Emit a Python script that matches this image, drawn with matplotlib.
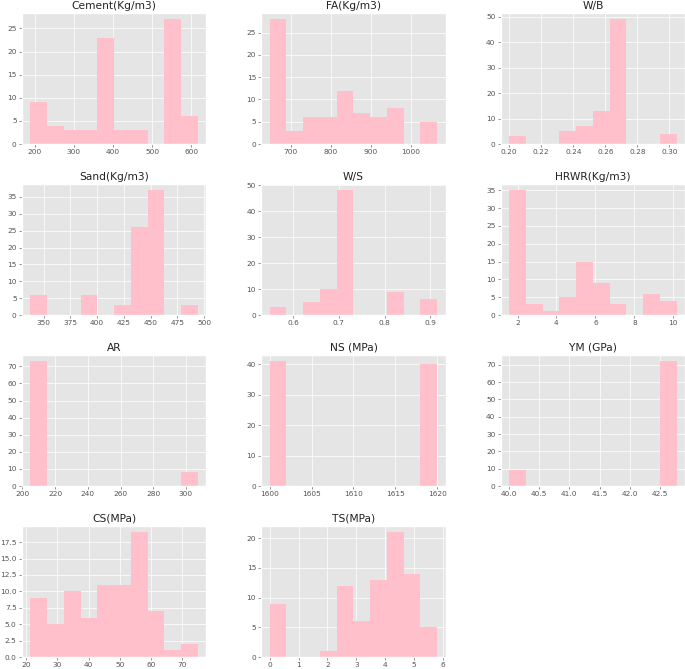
import numpy as np
import matplotlib
matplotlib.use("Agg")
import matplotlib.pyplot as plt

plt.style.use("ggplot")

# Histogram counts (10 bins each) and data ranges (min, max)
cement_counts = [9, 4, 3, 3, 23, 3, 3, 0, 27, 6]
cement_range = (189, 616)
fa_counts = [28, 3, 6, 6, 12, 7, 6, 8, 0, 5]
fa_range = (648, 1066)
wb_counts = [3, 0, 0, 5, 7, 13, 49, 0, 0, 4]
wb_range = (0.200, 0.3045)
sand_counts = [6, 0, 0, 6, 0, 3, 26, 37, 0, 3]
sand_range = (337.5, 494)
ws_counts = [3, 0, 5, 10, 48, 0, 0, 9, 0, 6]
ws_range = (0.549, 0.915)
hrwr_counts = [35, 3, 1, 5, 15, 9, 3, 0, 6, 4]
hrwr_range = (1.57, 10.17)
ar_counts = [73, 0, 0, 0, 0, 0, 0, 0, 0, 8]
ar_range = (204.8, 307.2)
ns_counts = [41, 0, 0, 0, 0, 0, 0, 0, 0, 40]
ns_range = (1600, 1620)
ym_counts = [9, 0, 0, 0, 0, 0, 0, 0, 0, 72]
ym_range = (40.0, 42.78)
cs_counts = [9, 5, 10, 6, 11, 11, 19, 7, 1, 2]
cs_range = (21.3, 75.0)
ts_counts = [9, 0, 0, 1, 12, 6, 13, 21, 14, 5]
ts_range = (0.0, 5.8)

titles = ["Cement(Kg/m3)", "FA(Kg/m3)", "W/B", "Sand(Kg/m3)", "W/S", "HRWR(Kg/m3)",
          "AR", "NS (MPa)", "YM (GPa)", "CS(MPa)", "TS(MPa)"]
all_counts = [cement_counts, fa_counts, wb_counts, sand_counts, ws_counts, hrwr_counts,
              ar_counts, ns_counts, ym_counts, cs_counts, ts_counts]
all_ranges = [cement_range, fa_range, wb_range, sand_range, ws_range, hrwr_range,
              ar_range, ns_range, ym_range, cs_range, ts_range]

fig, axes = plt.subplots(4, 3, figsize=(6.85, 6.69), dpi=100)
fig.subplots_adjust(left=0.032, right=1.0, top=0.9806, bottom=0.0179,
                    wspace=0.30, hspace=0.305)

for ax, title, counts, rng in zip(axes.flat, titles, all_counts, all_ranges):
    edges = np.linspace(rng[0], rng[1], len(counts) + 1)
    ax.hist(edges[:-1], bins=edges, weights=counts, color="pink")
    ax.set_title(title, fontsize=7.7, pad=3.2, color="#222222")
    ax.tick_params(axis="both", labelsize=5.3, length=1.9, width=0.45, pad=1.9,
                   colors="#555555")
    ax.grid(True, color="white", linewidth=0.5)
    ax.set_axisbelow(True)

axes.flat[-1].axis("off")

fig.savefig("out.png", dpi=100)
